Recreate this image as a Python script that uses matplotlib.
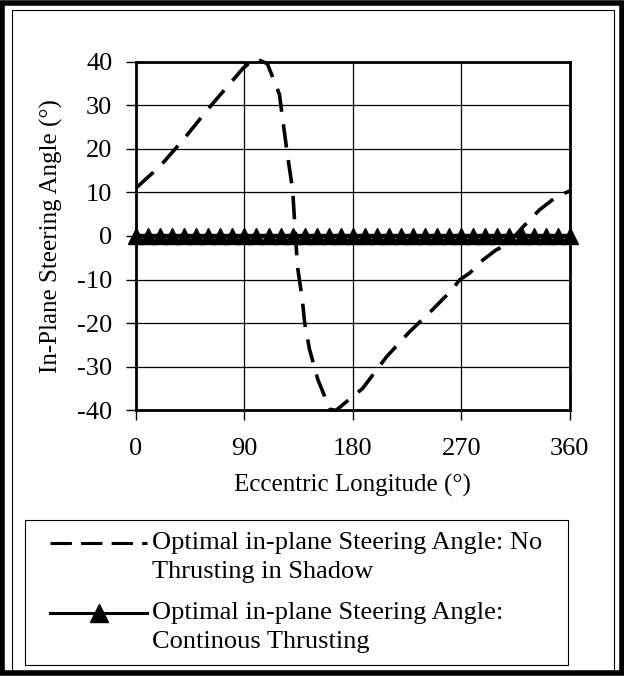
import matplotlib
matplotlib.use("Agg")
import matplotlib.pyplot as plt
from matplotlib.patches import Rectangle
from matplotlib.lines import Line2D

# dashed curve: no thrusting in shadow
lon_shadow = [0, 20, 39, 61, 75, 89, 99, 109, 119, 125, 130, 134, 138, 140, 144,
              151, 161, 166, 188, 208, 227, 244, 260, 269, 277, 288, 299, 308,
              321, 335, 349, 360]
angle_shadow = [11, 16, 22, 29.5, 34, 38.5, 40.7, 39.5, 32.5, 20, 10.5, -7, -14.5,
                -20, -26, -33, -39.8, -40, -35, -27.7, -22, -17.5, -13, -10, -8.5,
                -5.5, -3.2, -2, 2, 6, 9, 10.3]

# continuous thrusting: zero everywhere
lon_cont = [0, 10, 20, 30, 40, 50, 60, 70, 80, 90, 100, 110, 120, 130, 140, 150,
            160, 170, 180, 190, 200, 210, 220, 230, 240, 250, 260, 270, 280, 290,
            300, 310, 320, 330, 340, 350, 360]
angle_cont = [0, 0, 0, 0, 0, 0, 0, 0, 0, 0, 0, 0, 0, 0, 0, 0, 0, 0, 0, 0, 0, 0,
              0, 0, 0, 0, 0, 0, 0, 0, 0, 0, 0, 0, 0, 0, 0]

xticks = [0, 90, 180, 270, 360]
yticks = [40, 30, 20, 10, 0, -10, -20, -30, -40]

label_shadow = ["Optimal in-plane Steering Angle: No", "Thrusting in Shadow"]
label_cont = ["Optimal in-plane Steering Angle:", "Continous Thrusting"]

plt.rcParams["font.family"] = ["Liberation Serif", "DejaVu Serif"]
plt.rcParams["axes.unicode_minus"] = False

W, H = 624, 676
fig = plt.figure(figsize=(W / 100, H / 100), dpi=100)
ax = fig.add_axes([0.218, 0.393, 0.695, 0.516])

ax.plot(lon_cont, angle_cont, "-", color="black", lw=3.2, marker="^",
        markersize=12, clip_on=False, zorder=3)
ax.plot(lon_shadow, angle_shadow, color="black", lw=2.6, dashes=(6.5, 3.5),
        clip_on=False, zorder=4)

ax.set_xlim(0, 360)
ax.set_ylim(-40, 40)
ax.set_xticks(xticks)
ax.set_yticks(yticks)
ax.grid(True, color="black", lw=0.9)
ax.set_axisbelow(True)
for s in ax.spines.values():
    s.set_linewidth(2)
ax.tick_params(direction="out", length=7, width=1, labelsize=19)
ax.tick_params(axis="y", pad=10)
ax.tick_params(axis="x", pad=13)
ax.set_xlabel("Eccentric Longitude (°)", fontsize=18, labelpad=10)
ax.set_ylabel("In-Plane Steering Angle (°)", fontsize=18, labelpad=10)


def fx(px):
    return px / W


def fy(py):
    return 1 - py / H


# legend, drawn by hand so the handles sit on the first text line
fig.patches.append(Rectangle((fx(25), fy(665)), fx(568) - fx(25), fy(520) - fy(665),
                             transform=fig.transFigure, fill=False, lw=0.8,
                             edgecolor="black"))
entries = [(label_shadow, 543, dict(dashes=(7, 3))),
           (label_cont, 613, dict(marker="^", markersize=13, markevery=[1]))]
for lines, ytop, style in entries:
    handle = Line2D([fx(50), fx(98.5), fx(147)], [fy(ytop)] * 3, color="black",
                    lw=2.2, transform=fig.transFigure, **style)
    fig.lines.append(handle)
    for k, txt in enumerate(lines):
        fig.text(fx(152), fy(ytop + 29 * k), txt, fontsize=19, va="center",
                 ha="left")

# page borders
fig.patches.append(Rectangle((0.004, 0.004), 0.992, 0.992, transform=fig.transFigure,
                             fill=False, lw=4, edgecolor="black"))
fig.patches.append(Rectangle((0.0192, 0.0074), 0.965, 0.978, transform=fig.transFigure,
                             fill=False, lw=0.8, edgecolor="black"))

fig.savefig("out.png", dpi=100)
